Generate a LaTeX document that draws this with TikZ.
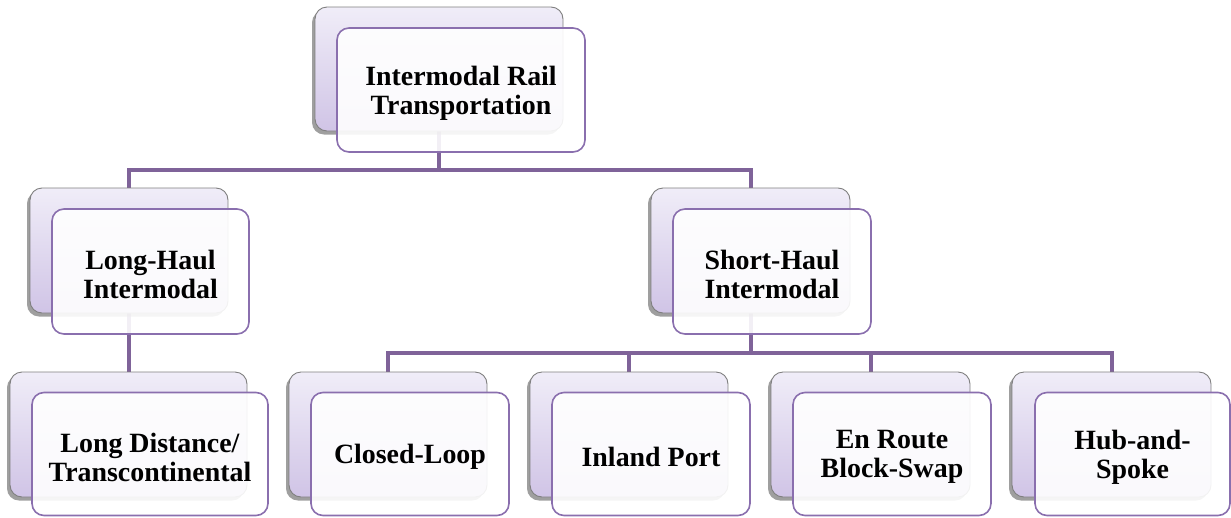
\documentclass[tikz,border=0pt]{standalone}
\usepackage{fontspec}
\setmainfont{Liberation Serif}
\usetikzlibrary{shadows}
\definecolor{backtop}{HTML}{F0EDF8}
\definecolor{backbot}{HTML}{D0C4E6}
\definecolor{backline}{HTML}{7F7F7F}
\definecolor{frontline}{HTML}{8A6FAE}
\definecolor{connline}{HTML}{7F6399}
\tikzset{
  backbox/.style={draw=backline, line width=0.9pt, rounded corners=12pt,
    top color=backtop, bottom color=backbot, inner sep=0pt,
    drop shadow={shadow xshift=-3pt, shadow yshift=-3.5pt, opacity=0.5, fill=black!75}},
  frontbox/.style={draw=frontline, line width=1.6pt, rounded corners=12pt,
    fill=white, fill opacity=0.9, text opacity=1, inner sep=0pt},
  boxtext/.style={align=center, text opacity=1, fill opacity=1, yshift=-3pt,
    font=\bfseries\fontsize{27.9}{29}\selectfont},
  conn/.style={draw=connline, line width=4pt}
}
\begin{document}
\begin{tikzpicture}[x=1pt,y=-1pt]
\useasboundingbox (0,0) rectangle (1231,517);
\coordinate (bar1) at (0,170);
\coordinate (bar2) at (0,353);
\path (439,69) coordinate (pb0) (129,250.5) coordinate (pb1) (750.5,250.5) coordinate (pb2)
      (128.5,434.5) coordinate (pb3) (388,434.5) coordinate (pb4) (629,434.5) coordinate (pb5)
      (870.5,434.5) coordinate (pb6) (1111.5,434.5) coordinate (pb7);
% invisible anchors for connectors (drawn below the boxes)
\node[minimum width=248pt, minimum height=124pt, inner sep=0pt] (c0) at (pb0) {};
\node[minimum width=198pt, minimum height=125pt, inner sep=0pt] (c1) at (pb1) {};
\node[minimum width=199pt, minimum height=125pt, inner sep=0pt] (c2) at (pb2) {};
\node[minimum width=237pt, minimum height=125pt, inner sep=0pt] (c3) at (pb3) {};
\node[minimum width=198pt, minimum height=125pt, inner sep=0pt] (c4) at (pb4) {};
\node[minimum width=198pt, minimum height=125pt, inner sep=0pt] (c5) at (pb5) {};
\node[minimum width=199pt, minimum height=125pt, inner sep=0pt] (c6) at (pb6) {};
\node[minimum width=199pt, minimum height=125pt, inner sep=0pt] (c7) at (pb7) {};
\draw[conn] (c0.south) -- (c0.south |- bar1);
\draw[conn] (c1.north) |- (c2.north |- bar1) -- (c2.north);
\draw[conn] (c1.south) -- (c1.south |- c3.north);
\draw[conn] (c2.south) -- (c2.south |- bar2);
\draw[conn] (c4.north) |- (c7.north |- bar2) -- (c7.north);
\draw[conn] (c5.north) -- (c5.north |- bar2);
\draw[conn] (c6.north) -- (c6.north |- bar2);
% back boxes
\node[backbox, minimum width=248pt, minimum height=124pt] (b0) at (pb0) {};
\node[backbox, minimum width=198pt, minimum height=125pt] (b1) at (pb1) {};
\node[backbox, minimum width=199pt, minimum height=125pt] (b2) at (pb2) {};
\node[backbox, minimum width=237pt, minimum height=125pt] (b3) at (pb3) {};
\node[backbox, minimum width=198pt, minimum height=125pt] (b4) at (pb4) {};
\node[backbox, minimum width=198pt, minimum height=125pt] (b5) at (pb5) {};
\node[backbox, minimum width=199pt, minimum height=125pt] (b6) at (pb6) {};
\node[backbox, minimum width=199pt, minimum height=125pt] (b7) at (pb7) {};
% front boxes with their texts
\node[frontbox, minimum width=248pt, minimum height=124pt,
  label={[boxtext]center:Intermodal Rail\\Transportation}] (f0) at (461,90) {};
\node[frontbox, minimum width=197pt, minimum height=125pt,
  label={[boxtext]center:Long-Haul\\Intermodal}] (f1) at (150.5,271.5) {};
\node[frontbox, minimum width=198pt, minimum height=125pt,
  label={[boxtext]center:Short-Haul\\Intermodal}] (f2) at (772,271.5) {};
\node[frontbox, minimum width=236pt, minimum height=123pt,
  label={[boxtext]center:Long Distance/\\Transcontinental}] (f3) at (150,454) {};
\node[frontbox, minimum width=198pt, minimum height=123pt,
  label={[boxtext]center:Closed-Loop}] (f4) at (410,454) {};
\node[frontbox, minimum width=198pt, minimum height=123pt,
  label={[boxtext]center:Inland Port}] (f5) at (651,454) {};
\node[frontbox, minimum width=198pt, minimum height=123pt,
  label={[boxtext]center:En Route\\Block-Swap}] (f6) at (892,454) {};
\node[frontbox, minimum width=195pt, minimum height=123pt,
  label={[boxtext]center:Hub-and-\\Spoke}] (f7) at (1132.5,454) {};
\end{tikzpicture}
\end{document}
